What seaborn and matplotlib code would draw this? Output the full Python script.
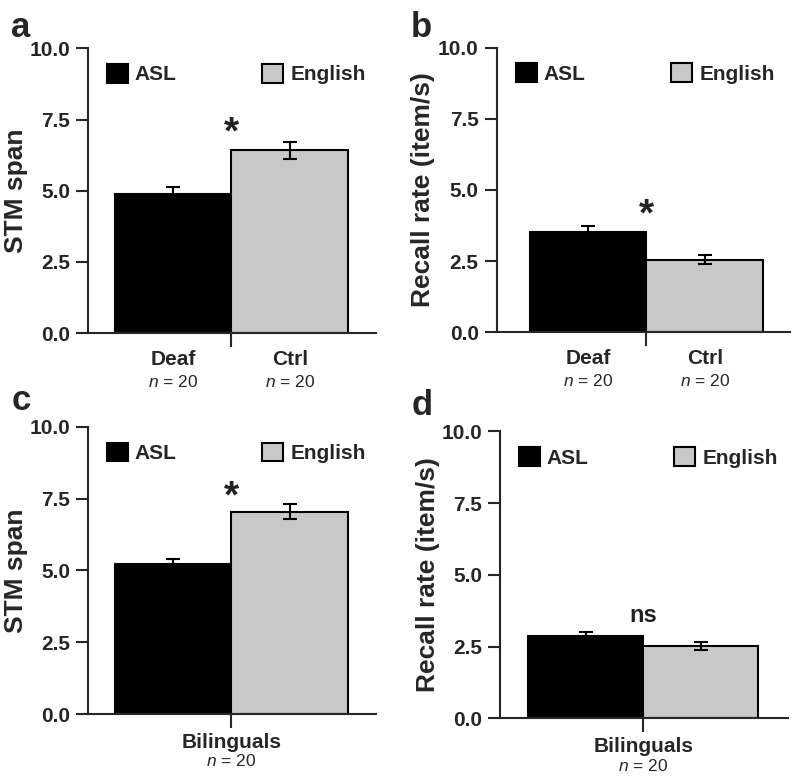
import pandas as pd
import matplotlib
matplotlib.use('Agg')
import matplotlib.pyplot as plt
from matplotlib.patches import Patch
from matplotlib.ticker import FormatStrFormatter
import seaborn as sns

# data
languages = ['ASL', 'English']
bar_colors = ['black', '#c8c8c8']

stm_deaf_ctrl = [4.87, 6.42]
stm_deaf_ctrl_err = [0.25, 0.29]
rate_deaf_ctrl = [3.52, 2.55]
rate_deaf_ctrl_err = [0.20, 0.15]
stm_biling = [5.22, 7.05]
stm_biling_err = [0.18, 0.27]
rate_biling = [2.87, 2.52]
rate_biling_err = [0.15, 0.13]

groups_ab = ['Deaf', 'Ctrl']
groups_cd = ['Bilinguals']
n_label = '$n$ = 20'

sns.set_style('ticks')
plt.rcParams['font.family'] = ['Liberation Sans', 'DejaVu Sans']
plt.rcParams['mathtext.fontset'] = 'custom'
plt.rcParams['mathtext.it'] = 'Liberation Sans:italic'
plt.rcParams['mathtext.rm'] = 'Liberation Sans'

fig = plt.figure(figsize=(8, 7.8), dpi=100)


def draw_panel(rect, vals, errs, ylabel, groups, mark, mark_y, mark_size, xlim):
    ax = fig.add_axes(rect)
    df = pd.DataFrame({'lang': languages, 'value': vals})
    sns.barplot(data=df, x='lang', y='value', hue='lang', palette=bar_colors,
                width=1, edgecolor='black', linewidth=1.5, errorbar=None,
                legend=False, ax=ax)
    for p, e in zip(ax.patches, errs):
        cx = p.get_x() + p.get_width() / 2
        ax.errorbar(cx, p.get_height(), yerr=e, color='black', capsize=5,
                    capthick=1.5, elinewidth=1.5)

    ax.set_ylim(0, 10)
    ax.set_xlim(*xlim)
    ax.set_yticks([0, 2.5, 5, 7.5, 10])
    ax.yaxis.set_major_formatter(FormatStrFormatter('%.1f'))
    ax.tick_params(axis='y', length=9, width=1.5, pad=4, labelsize=15)
    for t in ax.get_yticklabels():
        t.set_fontweight('bold')
    ax.set_ylabel(ylabel, fontsize=19, fontweight='bold')
    ax.yaxis.set_label_coords(-0.21, 0.5)
    ax.set_xlabel('')

    if len(groups) == 2:
        ax.set_xticks([0, 1], groups)
        ax.set_xticks([0.5], minor=True)
        ax.tick_params(axis='x', which='major', length=0, pad=12, labelsize=15)
        ax.tick_params(axis='x', which='minor', length=10, width=1.5)
        for i, g in enumerate(groups):
            ax.annotate(n_label, xy=(i, 0), xycoords=('data', 'axes fraction'),
                        xytext=(0, -35), textcoords='offset points',
                        ha='center', va='center', fontsize=12.5)
    else:
        ax.set_xticks([0.5], groups)
        ax.tick_params(axis='x', length=10, width=1.5, pad=3.5, labelsize=15)
        ax.annotate(n_label, xy=(0.5, 0), xycoords=('data', 'axes fraction'),
                    xytext=(0, -34), textcoords='offset points',
                    ha='center', va='center', fontsize=12.5)
    for t in ax.get_xticklabels():
        t.set_fontweight('bold')

    for side in ['top', 'right']:
        ax.spines[side].set_visible(False)
    for side in ['left', 'bottom']:
        ax.spines[side].set_linewidth(1.5)

    ax.text(0.5, mark_y, mark, ha='center', va='center',
            fontsize=mark_size, fontweight='bold', color='#222222')

    handles = [Patch(facecolor=c, edgecolor='black', linewidth=1.5) for c in bar_colors]
    ax.legend(handles, languages, ncol=2, loc='upper left',
              bbox_to_anchor=(0.065, 0.945), frameon=False, handlelength=1.0,
              handleheight=1.0, handletextpad=0.35, columnspacing=4.1,
              borderpad=0, borderaxespad=0,
              prop={'weight': 'bold', 'size': 15})
    return ax


draw_panel([0.11, 0.573, 0.36, 0.365], stm_deaf_ctrl, stm_deaf_ctrl_err,
           'STM span', groups_ab, '*', 7.0, 28, (-0.73, 1.74))
draw_panel([0.621, 0.574, 0.3665, 0.365], rate_deaf_ctrl, rate_deaf_ctrl_err,
           'Recall rate (item/s)', groups_ab, '*', 4.1, 28, (-0.78, 1.73))
draw_panel([0.11, 0.0846, 0.36, 0.368], stm_biling, stm_biling_err,
           'STM span', groups_cd, '*', 7.55, 28, (-0.73, 1.74))
draw_panel([0.625, 0.079, 0.36, 0.368], rate_biling, rate_biling_err,
           'Recall rate (item/s)', groups_cd, 'ns', 3.6, 17, (-0.743, 1.758))

for letter, x, y in [('a', 0.014, 0.9526), ('b', 0.514, 0.9526),
                     ('c', 0.014, 0.474), ('d', 0.514, 0.468)]:
    fig.text(x, y, letter, fontsize=25, fontweight='bold', va='baseline')

fig.savefig('out.png', dpi=100)
